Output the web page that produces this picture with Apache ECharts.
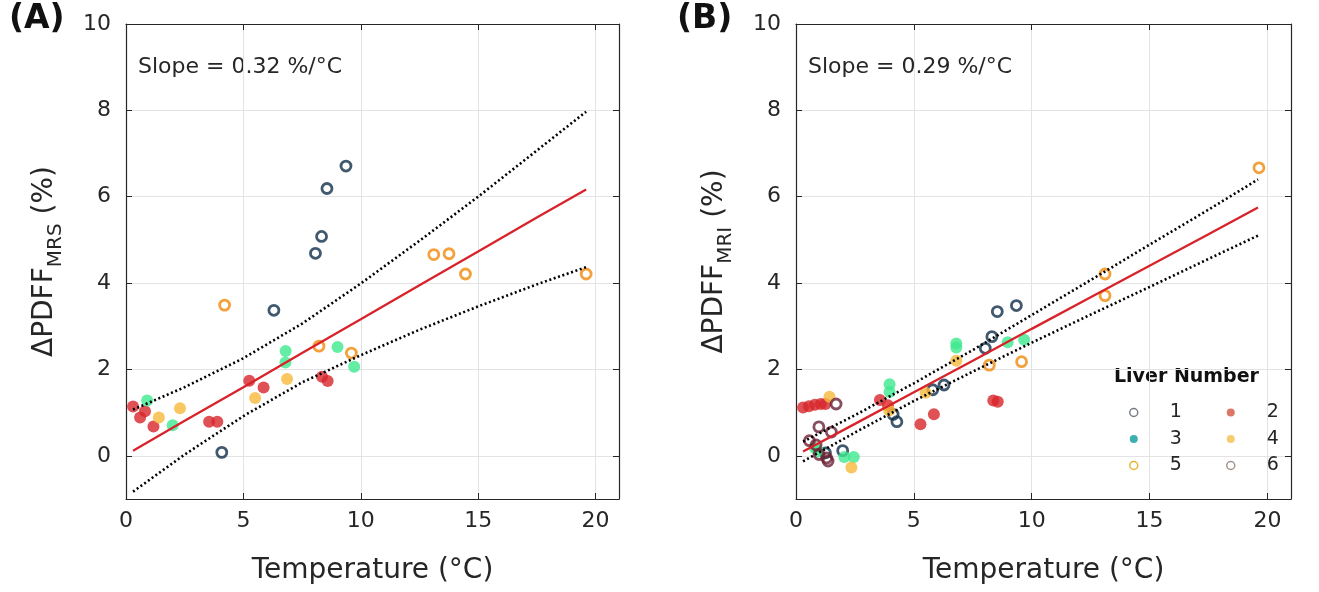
<!DOCTYPE html>
<html lang="en">
<head>
  <meta charset="UTF-8">
  <title>PDFF vs temperature</title>
  <style>
    html, body { margin: 0; padding: 0; background: #fff; }
    #chart { width: 1319px; height: 592px; }
  </style>
</head>
<body>
  <div id="chart"></div>
</body>
</html>
<script src="https://cdn.jsdelivr.net/npm/echarts@6/dist/echarts.min.js"></script>
<script>
  // panel A: MRS, [temperature, dPDFF] per liver
  var mrs1 = [[9.37, 6.71], [8.56, 6.19], [8.33, 5.08], [8.07, 4.69], [6.3, 3.37], [4.08, 0.08]];
  var mrs2 = [[0.3, 1.14], [0.81, 1.03], [0.6, 0.89], [1.17, 0.68], [3.54, 0.79], [3.89, 0.79],
              [5.25, 1.74], [5.86, 1.58], [8.35, 1.83], [8.59, 1.73]];
  var mrs3 = [[0.9, 1.28], [1.99, 0.71], [6.8, 2.43], [6.79, 2.16], [9.01, 2.52], [9.72, 2.06]];
  var mrs4 = [[1.4, 0.89], [2.3, 1.1], [5.5, 1.34], [6.86, 1.78]];
  var mrs5 = [[4.2, 3.49], [8.22, 2.54], [9.6, 2.38], [13.11, 4.66], [13.76, 4.68], [14.46, 4.21], [19.6, 4.21]];

  // panel B: MRI
  var mri1 = [[9.35, 3.48], [8.54, 3.34], [8.31, 2.76], [8.03, 2.49], [6.28, 1.64], [5.8, 1.53],
              [4.12, 0.96], [4.28, 0.79], [1.98, 0.12], [1.25, 0.07]];
  var mri2 = [[0.3, 1.12], [0.55, 1.15], [0.8, 1.18], [1.05, 1.2], [1.25, 1.2], [3.56, 1.29], [3.9, 1.17],
              [5.28, 0.73], [5.85, 0.96], [8.37, 1.28], [8.56, 1.25]];
  var mri3 = [[6.8, 2.6], [6.8, 2.51], [8.98, 2.63], [9.68, 2.69], [3.97, 1.66], [3.97, 1.48],
              [0.8, 0.18], [0.95, 0.1], [2.05, -0.03], [2.45, -0.03]];
  var mri4 = [[6.8, 2.2], [5.5, 1.46], [1.42, 1.37], [2.35, -0.27], [3.95, 1.05]];
  var mri5 = [[19.64, 6.67], [13.11, 4.21], [13.11, 3.71], [8.2, 2.1], [9.57, 2.18]];
  var mri6 = [[1.7, 1.2], [0.97, 0.67], [1.5, 0.55], [0.57, 0.35], [0.98, 0.03], [1.3, -0.05],
              [1.36, -0.12], [0.85, 0.25]];

  // regression line and confidence band, read at these temperatures
  var fitX = [0.3, 2.5, 5, 7.5, 10, 12.5, 15, 17.5, 19.6];
  var fitA = [0.12, 0.81, 1.59, 2.38, 3.16, 3.95, 4.73, 5.52, 6.17];
  var upA = [1.07, 1.59, 2.26, 3.06, 3.99, 4.98, 6.0, 7.07, 7.97];
  var loA = [-0.83, 0.03, 0.92, 1.70, 2.33, 2.92, 3.46, 3.97, 4.37];
  var fitB = [0.10, 0.74, 1.47, 2.20, 2.94, 3.67, 4.40, 5.13, 5.75];
  var upB = [0.33, 0.94, 1.68, 2.45, 3.26, 4.07, 4.89, 5.70, 6.40];
  var loB = [-0.13, 0.54, 1.27, 1.95, 2.62, 3.27, 3.91, 4.56, 5.10];

  var liverNames = ['1', '2', '3', '4', '5', '6'];
  var colors = ['#11304a', '#d7262b', '#3de88f', '#f6b93b', '#ef8a0c', '#6a2235'];
  var hollow = [true, false, false, false, true, true];
  var legendColors = ['#555d66', '#d2553f', '#0e9b9b', '#f5bf4a', '#e0a000', '#8a7a70'];

  var font = 'DejaVu Sans';
  var ink = '#262626';

  function zip(xs, ys) {
    return xs.map(function (x, i) { return [x, ys[i]]; });
  }

  function scatter(name, data, k, idx) {
    var st = hollow[k]
      ? { color: 'rgba(255,255,255,0)', borderColor: colors[k], borderWidth: 2.8 }
      : { color: colors[k] };
    return {
      name: name, type: 'scatter', xAxisIndex: idx, yAxisIndex: idx,
      symbolSize: hollow[k] ? 10 : 12, itemStyle: st, data: data, z: 2
    };
  }

  function line(data, idx, dotted) {
    return {
      type: 'line', xAxisIndex: idx, yAxisIndex: idx, symbol: 'none', silent: true,
      lineStyle: dotted ? { color: '#000', width: 2.6, type: [2, 2.6] } : { color: '#d8232a', width: 2.3 },
      data: data, z: 5
    };
  }

  function xAx(idx, top) {
    return {
      type: 'value', gridIndex: idx, min: 0, max: 21, splitNumber: 5,
      position: top ? 'top' : 'bottom',
      name: top ? '' : 'Temperature (°C)', nameLocation: 'middle', nameGap: 58,
      nameTextStyle: { fontFamily: font, fontSize: 28, color: ink },
      axisLine: { show: true, onZero: false, lineStyle: { color: ink, width: 1.2 } },
      axisTick: { show: true, inside: true, length: 6, lineStyle: { color: ink } },
      axisLabel: { show: !top, showMaxLabel: false, margin: 11, fontFamily: font, fontSize: 22, color: ink },
      splitLine: { show: !top, lineStyle: { color: '#e3e3e3', width: 1 } }
    };
  }

  function yAx(idx, right, sub) {
    return {
      type: 'value', gridIndex: idx, min: -1, max: 10, splitNumber: 5,
      position: right ? 'right' : 'left',
      name: right ? '' : '{a|ΔPDFF}{s|' + sub + '}{a| (%)}',
      nameLocation: 'middle', nameRotate: 90, nameGap: 60,
      nameTextStyle: {
        fontFamily: font, color: ink,
        rich: {
          a: { fontFamily: font, fontSize: 28, color: ink, lineHeight: 42, verticalAlign: 'middle' },
          s: { fontFamily: font, fontSize: 20, color: ink, lineHeight: 20, verticalAlign: 'bottom' }
        }
      },
      axisLine: { show: true, onZero: false, lineStyle: { color: ink, width: 1.2 } },
      axisTick: { show: true, inside: true, length: 6, lineStyle: { color: ink } },
      axisLabel: { show: !right, showMinLabel: false, margin: 15, fontFamily: font, fontSize: 22, color: ink },
      splitLine: { show: !right, lineStyle: { color: '#e3e3e3', width: 1 } }
    };
  }

  var series = [
    scatter('A1', mrs1, 0, 0), scatter('A2', mrs2, 1, 0), scatter('A3', mrs3, 2, 0),
    scatter('A4', mrs4, 3, 0), scatter('A5', mrs5, 4, 0),
    scatter('1', mri1, 0, 2), scatter('2', mri2, 1, 2), scatter('3', mri3, 2, 2),
    scatter('4', mri4, 3, 2), scatter('5', mri5, 4, 2), scatter('6', mri6, 5, 2),
    line(zip(fitX, fitA), 0, false), line(zip(fitX, upA), 0, true), line(zip(fitX, loA), 0, true),
    line(zip(fitX, fitB), 2, false), line(zip(fitX, upB), 2, true), line(zip(fitX, loB), 2, true)
  ];

  function legendItems(ks) {
    return ks.map(function (k) {
      return {
        name: liverNames[k], icon: 'circle',
        itemStyle: hollow[k]
          ? { color: '#fff', borderColor: legendColors[k], borderWidth: 1.5 }
          : { color: legendColors[k], borderWidth: 0 }
      };
    });
  }

  function legend(left, ks) {
    return {
      orient: 'vertical', left: left, top: 398, itemGap: 7.5, itemWidth: 8, itemHeight: 8,
      selectedMode: false,
      textStyle: { fontFamily: font, fontSize: 19, color: ink, padding: [0, 0, 0, 27] },
      data: legendItems(ks)
    };
  }

  var myChart = echarts.init(document.getElementById('chart'));
  var option = {
    animation: false,
    backgroundColor: '#fff',
    grid: [
      { left: 126, top: 24, width: 493, height: 475 },
      { left: 126, top: 24, width: 493, height: 475 },
      { left: 796, top: 24, width: 495, height: 475 },
      { left: 796, top: 24, width: 495, height: 475 }
    ],
    xAxis: [xAx(0, false), xAx(1, true), xAx(2, false), xAx(3, true)],
    yAxis: [yAx(0, false, 'MRS'), yAx(1, true), yAx(2, false, 'MRI'), yAx(3, true)],
    legend: [legend(1124, [0, 2, 4]), legend(1221, [1, 3, 5])],
    graphic: [
      { type: 'text', left: 9, top: 3, style: { text: '(A)', fontFamily: font, fontSize: 33, fontWeight: 'bold', fill: '#111' } },
      { type: 'text', left: 677, top: 3, style: { text: '(B)', fontFamily: font, fontSize: 33, fontWeight: 'bold', fill: '#111' } },
      { type: 'text', left: 138, top: 56, style: { text: 'Slope = 0.32 %/°C', fontFamily: font, fontSize: 22, fill: ink } },
      { type: 'text', left: 808, top: 56, style: { text: 'Slope = 0.29 %/°C', fontFamily: font, fontSize: 22, fill: ink } },
      { type: 'text', left: 1114, top: 368, style: { text: 'Liver Number', fontFamily: font, fontSize: 19, fontWeight: 'bold', fill: '#111' } }
    ],
    series: series
  };
  myChart.setOption(option);
</script>
